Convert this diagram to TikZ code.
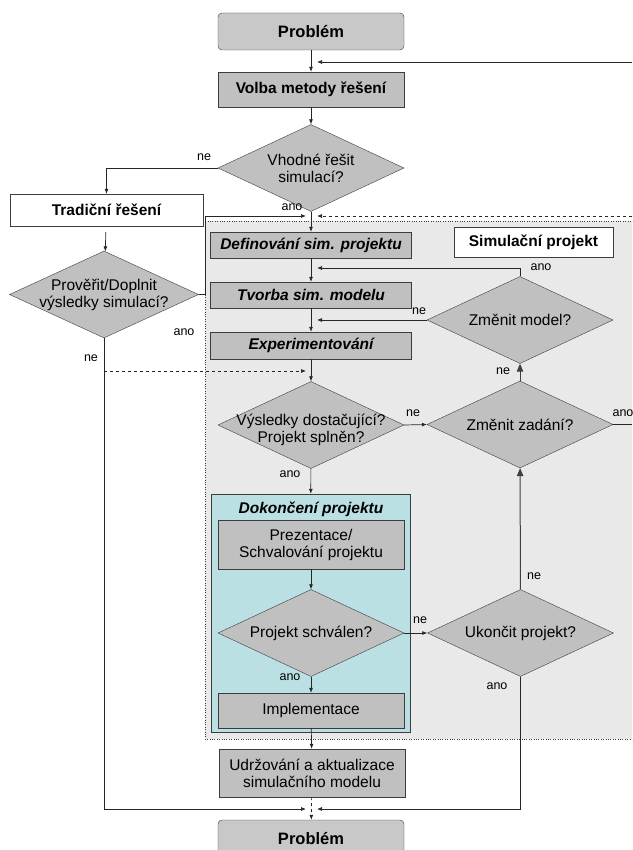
\documentclass[tikz,border=0pt]{standalone}
\usepackage{fontspec}
\setmainfont{Liberation Sans}
\usetikzlibrary{arrows.meta, positioning, shapes.geometric}

\definecolor{boxgray}{RGB}{192,192,192}
\definecolor{termgray}{RGB}{200,200,200}
\definecolor{simgray}{RGB}{233,233,233}
\definecolor{tealfill}{RGB}{186,224,228}
\definecolor{edgegray}{RGB}{60,60,60}
\newcommand\txtsize{\fontsize{15.5}{17}\selectfont}
\newcommand\headsize{\fontsize{15.5}{17}\selectfont\bfseries}

\begin{document}
\begin{tikzpicture}[x=1pt, y=-1pt, font=\txtsize, >={Latex[length=5pt,width=4pt]},
  box/.style={draw=edgegray, fill=boxgray, align=center, minimum width=186pt, inner sep=2pt},
  term/.style={box, rounded corners=4pt, fill=termgray, minimum height=37pt, font=\fontsize{16.5}{18}\selectfont\bfseries},
  phase/.style={box, minimum width=201pt, minimum height=27pt, font=\headsize\itshape},
  decide/.style={diamond, draw=edgegray, fill=boxgray, minimum width=186pt, minimum height=87pt, inner sep=0pt},
  dtext/.style={align=center, inner sep=0pt},
  lbl/.style={font=\fontsize{12.5}{14}\selectfont, inner sep=1pt},
  arr/.style={->, draw=black!85, line width=0.7pt},
  darr/.style={arr, dashed},
  bigarr/.style={-{Triangle[length=8pt,width=6.5pt]}, draw=black!75, line width=1pt}]
\useasboundingbox (0,0) rectangle (632,850);
\clip (0,0) rectangle (632,850);

% simulation project area
\fill[simgray] (205,221) rectangle (640,739);
\draw[dotted, edgegray] (640,221) -- (205,221) -- (205,739) -- (640,739);
\node[draw=edgegray, fill=tealfill, minimum width=199pt, minimum height=238pt, inner sep=0pt] (fin) at (310.5,613) {};
\node[font=\headsize\itshape] (fintitle) at (311,509) {Dokončení projektu};

% nodes
\node[term] (prob1) at (311,31.5) {Problém};
\node[box, minimum height=35pt, font=\headsize] (volba) at (311,89.5) {Volba metody řešení};
\node[decide, label={[dtext]center:{Vhodné řešit\\simulací?}}] (d1) at (311,168) {};
\node[box, fill=white, minimum width=193pt, minimum height=32pt, font=\headsize] (trad) at (106.5,210) {Tradiční řešení};
\node[decide, minimum width=189pt, label={[dtext]center:{Prověřit/Doplnit\\výsledky simulací?}}] (d2) at (104,294.5) {};

\node[phase, minimum height=26pt] (def) at (311,245) {Definování sim. projektu};
\node[box, fill=white, minimum width=159pt, minimum height=30pt, font=\headsize] (simproj) at (533.5,242) {Simulační projekt};
\node[phase, minimum height=26pt] (tvorba) at (311,295) {Tvorba sim. modelu};
\node[phase] (exper) at (311,345.5) {Experimentování};
\node[decide, label={[dtext]center:Změnit model?}] (d3) at (520,320) {};
\node[decide, label={[dtext, yshift=-5pt]center:{Výsledky dostačující?\\Projekt splněn?}}] (d4) at (311,425) {};
\node[decide, label={[dtext]center:Změnit zadání?}] (d5) at (520,424.5) {};

\node[box, minimum height=49pt] (prez) at (311,544.5) {Prezentace/\\Schvalování projektu};
\node[decide, label={[dtext]center:Projekt schválen?}] (d6) at (311,633) {};
\node[decide, label={[dtext]center:Ukončit projekt?}] (d7) at (520.5,633) {};
\node[box, minimum height=35pt] (impl) at (311,710.5) {Implementace};
\node[box, minimum height=48pt] (udrz) at (312,773) {Udržování a aktualizace\\simulačního modelu};
\node[term] (prob2) at (311,838.5) {Problém};

% branch labels
\node[lbl] (l1) at (204,157) {ne};
\node[lbl] (l2) at (292,207) {ano};
\node[lbl] (l3) at (184,332) {ano};
\node[lbl] (l4) at (91,358) {ne};
\node[lbl] (l5) at (541,267) {ano};
\node[lbl] (l6) at (419,311) {ne};
\node[lbl] (l7) at (413,413) {ne};
\node[lbl] (l8) at (290,474) {ano};
\node[lbl] (l9) at (503,371) {ne};
\node[lbl] (l10) at (623,413) {ano};
\node[lbl] (l11) at (420,620) {ne};
\node[lbl] (l12) at (290,677) {ano};
\node[lbl] (l13) at (534,576) {ne};
\node[lbl] (l14) at (497,686) {ano};

% free ends and corners
\coordinate (rin) at (632,62);
\coordinate (rdash) at (632,216);
\coordinate (loopin) at (205,216);
\coordinate (anom) at (520,268);
\coordinate (dashl) at (104,371);
\coordinate (dnl) at (104,809);
\coordinate (dnr) at (520.5,809);
\coordinate (rout) at (632,424.5);

% connectors
\draw[arr] (prob1) -- (volba);
\draw[arr] (rin) -- ([xshift=6pt]volba.north |- rin);
\draw[arr] (volba) -- (d1);
\draw[arr] (d1.west) -| (trad);
\draw[arr] (d1) -- (def);
\draw[arr, shorten <=6pt] (trad) -- (d2);
\draw[arr] (d2.east) -| (loopin) -- ([xshift=-5pt]def.north |- loopin);
\draw[darr] (rdash) -- ([xshift=6pt]def.north |- rdash);
\draw[arr] (def) -- (tvorba);
\draw[arr] (tvorba) -- (exper);
\draw[arr] (exper) -- (d4);
\draw[arr] (d3.north) -- (anom) -- ([xshift=6pt]tvorba.north |- anom);
\draw[arr] (d3.west) -- ([xshift=6pt]exper.north |- d3.west);
\draw[arr] (d2.south) -- (dnl) -- ([xshift=-5pt]prob2.north |- dnl);
\draw[darr] (dashl) -- ([xshift=-5pt]d4.north |- dashl);
\draw[arr] (d4.east) -- (d5.west);
\draw[arr] (d4) -- (fin);
\draw[bigarr] (d5) -- (d3);
\draw[bigarr] (d7) -- (d5);
\draw[draw=black!85, line width=0.7pt] (d5.east) -- (rout);
\draw[arr] (prez) -- (d6);
\draw[arr] (d6.east) -- (d7.west);
\draw[arr] (d6) -- (impl);
\draw[arr] (impl) -- (udrz);
\draw[darr] (udrz) -- (prob2);
\draw[arr] (d7.south) -- (dnr) -- ([xshift=6pt]prob2.north |- dnr);
\end{tikzpicture}
\end{document}
